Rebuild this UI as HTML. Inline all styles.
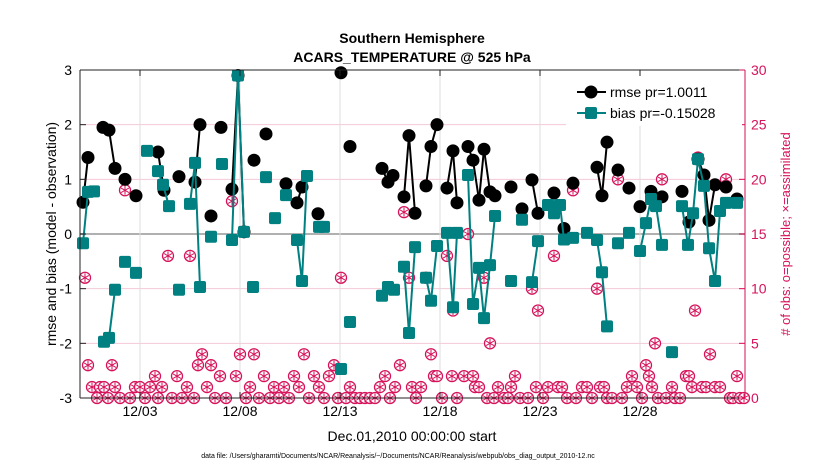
<!DOCTYPE html>
<html><head><meta charset="utf-8">
<style>
html,body{margin:0;padding:0;background:#fff;}
svg{display:block;font-family:"Liberation Sans",Arial,sans-serif;}
</style></head>
<body>
<svg id="chart" width="830" height="470" viewBox="0 0 830 470" xmlns="http://www.w3.org/2000/svg">
<rect x="0" y="0" width="830" height="470" fill="#fff"/>
<text x="412" y="43" text-anchor="middle" font-size="14" font-weight="bold">Southern Hemisphere</text>
<text x="412" y="62" text-anchor="middle" font-size="14" font-weight="bold">ACARS_TEMPERATURE @ 525 hPa</text>
<g id="grid"></g>
<g id="obs"></g>
<g id="rmse"></g>
<g id="bias"></g>
<g id="axes"></g>
<text transform="translate(56,234) rotate(-90)" text-anchor="middle" font-size="14">rmse and bias (model - observation)</text>
<text transform="translate(790,234) rotate(-90)" text-anchor="middle" font-size="13" fill="#d6125a"># of obs: o=possible; ×=assimilated</text>
<text x="412" y="441" text-anchor="middle" font-size="14">Dec.01,2010 00:00:00 start</text>
<text x="398" y="458" text-anchor="middle" font-size="7">data file: /Users/gharamti/Documents/NCAR/Reanalysis/~/Documents/NCAR/Reanalysis/webpub/obs_diag_output_2010-12.nc</text>
<g id="legend">
<rect x="566" y="76" width="176" height="50" fill="#fff"/>
<line x1="577" y1="92" x2="606" y2="92" stroke="#000" stroke-width="2"/>
<circle cx="591" cy="92" r="6.5" fill="#000"/>
<text x="610" y="97" font-size="14">rmse pr=1.0011</text>
<line x1="577" y1="113" x2="606" y2="113" stroke="#008080" stroke-width="2"/>
<rect x="585" y="107" width="12" height="12" rx="2" fill="#008080"/>
<text x="610" y="118" font-size="14">bias pr=-0.15028</text>
</g>
</svg>
<script>
const rmseDays=[0.15,0.4,1.15,1.45,1.75,2.25,2.8,3.9,4.2,4.95,5.75,6.0,6.55,7.05,7.6,7.9,8.2,8.7,9.3,10.3,10.85,11.1,11.9,13.05,13.5,15.1,15.4,15.65,16.2,16.45,16.75,17.3,17.55,17.85,18.35,18.65,18.85,19.4,19.65,19.95,20.2,20.5,20.75,21.55,22.1,22.6,22.9,23.7,24.2,24.65,25.85,26.1,26.35,26.9,27.45,28.0,28.55,29.1,29.6,30.1,30.45,30.9,31.2,31.45,31.75,32.3,32.85];
const rmseVals=[0.58,1.4,1.95,1.9,1.2,1.0,0.7,1.5,0.8,1.05,0.95,2.0,0.33,1.95,0.82,2.9,0.04,1.35,1.83,0.92,0.57,0.86,0.37,2.95,1.6,1.2,0.95,1.07,0.68,1.8,0.38,0.88,1.6,2.0,0.84,1.52,0.57,1.6,1.35,0.62,1.55,0.77,0.7,0.86,0.46,0.99,0.38,0.75,0.1,0.93,1.22,0.7,1.68,1.17,0.84,0.5,0.78,0.68,2.14,0.78,0.22,1.37,1.08,0.25,0.9,0.86,0.64];
const biasDays=[0.15,0.4,0.7,1.2,1.45,1.75,2.25,2.8,3.35,3.9,4.15,4.45,4.95,5.5,5.75,6.0,6.55,7.1,7.6,7.9,8.2,8.65,9.3,9.75,10.3,10.85,11.1,11.35,11.95,12.2,13.05,13.5,15.1,15.4,15.7,16.2,16.45,16.75,17.3,17.55,17.85,18.35,18.65,18.85,19.4,19.65,19.95,20.2,20.5,20.75,21.55,22.1,22.6,22.9,23.4,23.7,24.0,24.2,24.65,25.35,25.85,26.1,26.35,26.9,27.45,28.0,28.3,28.55,28.8,29.1,29.6,30.1,30.4,30.65,30.9,31.2,31.45,31.75,32.0,32.3,32.85];
const biasVals=[-0.17,0.77,0.78,-1.97,-1.9,-1.02,-0.51,-0.71,1.52,1.15,0.9,0.51,-1.02,0.55,1.3,-0.97,-0.05,1.28,-0.11,2.9,0.04,-0.97,1.04,0.29,0.71,-0.11,-0.86,1.06,0.13,0.13,-2.47,-1.61,-1.13,-0.97,-1.02,-0.6,-1.81,-0.24,-0.8,-1.22,-0.22,0.02,-1.34,0.02,1.08,-1.28,-0.62,-1.54,-0.57,0.33,-0.86,0.26,-0.88,-0.13,0.53,0.38,0.53,-0.1,-0.07,0.02,-0.11,-0.7,-1.69,-0.17,0.02,-0.31,0.2,0.64,0.51,-0.2,-2.16,0.51,-0.2,0.38,1.37,0.88,-0.26,-0.86,0.42,0.57,0.57];
const obsDays=[0.25,0.4,0.6,0.85,1.0,1.2,1.4,1.6,1.75,2.0,2.25,2.5,2.75,3.0,3.25,3.5,3.75,3.9,4.1,4.4,4.6,4.85,5.1,5.35,5.5,5.7,5.9,6.1,6.35,6.55,6.75,7.0,7.3,7.6,7.8,8.0,8.3,8.5,8.7,8.95,9.2,9.5,9.7,9.95,10.2,10.45,10.7,10.95,11.2,11.45,11.7,11.95,12.2,12.45,12.7,12.9,13.05,13.3,13.5,13.75,14.0,14.25,14.5,14.75,15.0,15.25,15.5,15.75,16.0,16.2,16.45,16.6,16.8,17.05,17.3,17.55,17.7,17.85,18.1,18.35,18.6,18.65,18.85,19.2,19.4,19.65,19.75,19.95,20.2,20.35,20.5,20.7,20.9,21.2,21.4,21.55,21.75,22.0,22.4,22.6,22.8,22.9,23.15,23.4,23.7,23.9,24.1,24.35,24.65,24.8,25.1,25.35,25.6,25.85,26.0,26.2,26.35,26.6,26.9,27.1,27.35,27.6,27.85,28.1,28.3,28.45,28.6,28.75,28.9,29.1,29.3,29.6,29.75,30.0,30.3,30.45,30.6,30.75,30.9,31.1,31.3,31.5,31.75,32.0,32.3,32.5,32.65,32.85,33.0,33.2];
const obsCounts=[11,3,1,0,1,1,0,3,1,0,19,0,1,1,0,1,2,0,1,13,0,2,0,1,13,0,3,4,1,3,0,2,0,18,2,4,0,1,4,0,2,0,1,0,1,0,2,1,4,0,2,1,0,2,3,0,11,0,1,0,0,0,0,0,1,2,0,1,3,17,11,1,0,1,11,4,2,2,0,13,2,8,0,2,15,2,1,1,11,0,5,0,1,0,0,1,2,0,0,10,1,8,0,1,13,1,1,0,19,0,1,1,0,10,1,1,0,0,20,0,1,2,1,0,3,2,1,5,0,20,0,1,0,0,2,2,1,8,22,1,1,4,1,1,20,0,0,2,0,0];
const xTickDays=[3,8,13,18,23,28];
const xTickLabels=["12/03","12/08","12/13","12/18","12/23","12/28"];
const yTicks=[-3,-2,-1,0,1,2,3];
const y2Ticks=[0,5,10,15,20,25,30];

const L=80,R=745,T=70,B=398;
const xS=d=>L+d*(R-L)/33.25;
const yS=v=>B-(v+3)*(B-T)/6;
const y2S=c=>B-c*(B-T)/30;
const NS="http://www.w3.org/2000/svg";
function mk(tag,attrs,parent){const e=document.createElementNS(NS,tag);for(const k in attrs)e.setAttribute(k,attrs[k]);parent.appendChild(e);return e;}
const grid=document.getElementById('grid'),axes=document.getElementById('axes');
yTicks.forEach(v=>{
  if(v===-3||v===3)return;
  const g=mk('line',{x1:L,x2:R,y1:yS(v),y2:yS(v),stroke:v===0?'#b0b0b0':'#f4c8d8','stroke-width':v===0?2:1},grid);
  
  
});
xTickDays.forEach(d=>{
  const g=mk('line',{x1:xS(d),x2:xS(d),y1:T,y2:B,stroke:'#dcdcdc','stroke-width':1},grid);
  
  
});
// axes
mk('line',{x1:L,x2:R,y1:T,y2:T,stroke:'#222'},axes);
mk('line',{x1:L,x2:R,y1:B,y2:B,stroke:'#222'},axes);
mk('line',{x1:L,x2:L,y1:T,y2:B,stroke:'#222'},axes);
mk('line',{x1:R,x2:R,y1:T,y2:B,stroke:'#d6125a'},axes);
yTicks.forEach(v=>{
  mk('line',{x1:L,x2:L+6,y1:yS(v),y2:yS(v),stroke:'#222'},axes);
  const t=mk('text',{x:L-8,y:yS(v)+5,'text-anchor':'end','font-size':14},axes);
  t.textContent=String(v);
  
  
});
y2Ticks.forEach(c=>{
  mk('line',{x1:R-6,x2:R,y1:y2S(c),y2:y2S(c),stroke:'#d6125a'},axes);
  const t=mk('text',{x:R+6,y:y2S(c)+5,'font-size':14,fill:'#d6125a'},axes);
  t.textContent=String(c);
  
  
});
xTickDays.forEach((d,i)=>{
  mk('line',{x1:xS(d),x2:xS(d),y1:B,y2:B-6,stroke:'#222'},axes);
  mk('line',{x1:xS(d),x2:xS(d),y1:T,y2:T+6,stroke:'#222'},axes);
  const t=mk('text',{x:xS(d),y:B+18,'text-anchor':'middle','font-size':14},axes);
  t.textContent=xTickLabels[i];
  
  
});
// obs
const og=document.getElementById('obs');
obsDays.forEach((d,i)=>{
  const cx=xS(d),cy=y2S(obsCounts[i]);
  const g=mk('g',{},og);
  
  
  mk('circle',{cx:cx,cy:cy,r:5.5,fill:'#fff',stroke:'#d6125a','stroke-width':1.3},g);
  for(let a=0;a<3;a++){const an=a*Math.PI/3+Math.PI/2;const dx=4.5*Math.cos(an),dy=4.5*Math.sin(an);
    mk('line',{x1:cx-dx,y1:cy-dy,x2:cx+dx,y2:cy+dy,stroke:'#d6125a','stroke-width':1},g);}
});
function lines(days,vals,color,parent,name){
  for(let i=1;i<days.length;i++){
    if(days[i]-days[i-1]<=0.32){
      const l=mk('line',{x1:xS(days[i-1]),y1:yS(vals[i-1]),x2:xS(days[i]),y2:yS(vals[i]),stroke:color,'stroke-width':2},parent);
      
      
    }
  }
}
const rg=document.getElementById('rmse');
lines(rmseDays,rmseVals,'#000',rg,'rmse-line');
rmseDays.forEach((d,i)=>{
  const c=mk('circle',{cx:xS(d),cy:yS(rmseVals[i]),r:6.5,fill:'#000'},rg);
  
  
});
const bg=document.getElementById('bias');
lines(biasDays,biasVals,'#008080',bg,'bias-line');
biasDays.forEach((d,i)=>{
  const c=mk('rect',{x:xS(d)-6,y:yS(biasVals[i])-6,width:12,height:12,rx:2,fill:'#008080'},bg);
  
  
});
</script>
</body></html>
